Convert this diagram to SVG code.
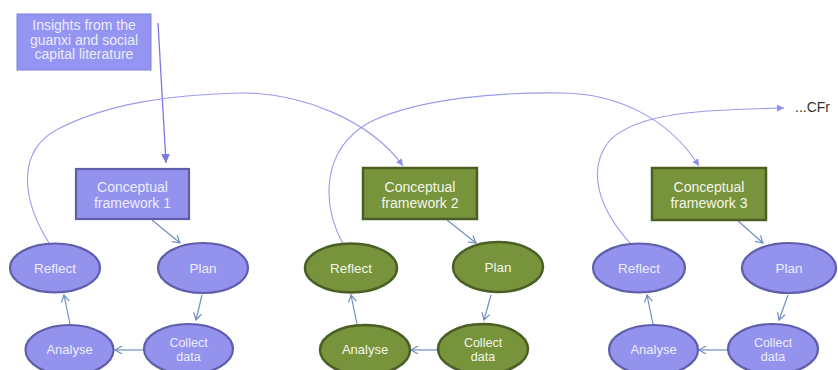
<svg xmlns="http://www.w3.org/2000/svg" width="838" height="370" viewBox="0 0 838 370">
  <defs>
    <style>
      .lav { fill: #9393ee; stroke: #5e5eaa; stroke-width: 2.2; }
      .grn { fill: #77933c; stroke: #4b5f25; stroke-width: 2.5; }
      .src { fill: #9494f2; stroke: #8080dd; stroke-width: 1; }
      text { font-family: "Liberation Sans", Arial, sans-serif; text-anchor: middle; }
      .tl { fill: #ececff; font-size: 14px; }
      .tg { fill: #f4f6ea; font-size: 14px; }
      .te { font-size: 13.5px; }
      .tc { font-size: 12.5px; }
      .cyc { fill: none; stroke: #6f8fc2; stroke-width: 1.2; marker-end: url(#open); }
      .loop { fill: none; stroke: #9a9aee; stroke-width: 1.1; marker-end: url(#tri); }
      .feed { fill: none; stroke: #7a7ae0; stroke-width: 1.3; marker-end: url(#tri2); }
    </style>
    <marker id="open" markerUnits="userSpaceOnUse" markerWidth="10" markerHeight="10" refX="8" refY="5" orient="auto">
      <path d="M1,1 L8,5 L1,9" fill="none" stroke="#6f8fc2" stroke-width="1.2"/>
    </marker>
    <marker id="tri" markerUnits="userSpaceOnUse" markerWidth="8" markerHeight="8" refX="7" refY="3.5" orient="auto">
      <path d="M0,0 L7,3.5 L0,7 z" fill="#8f8fec"/>
    </marker>
    <marker id="tri2" markerUnits="userSpaceOnUse" markerWidth="10" markerHeight="10" refX="9" refY="4.5" orient="auto">
      <path d="M0,0 L9,4.5 L0,9 z" fill="#7a7ae0"/>
    </marker>
  </defs>

  <rect width="838" height="370" fill="#ffffff"/>

  <!-- connectors -->
  <g id="connectors">
    <!-- literature feeds into the first framework -->
    <path class="feed" d="M158,23 L166,163"/>
    <!-- reflection loops on to the next framework -->
    <path class="loop" d="M49,243 C22,200 15,150 60,128 C110,103 170,95 240,93 C300,92 370,120 403,166"/>
    <path class="loop" d="M343,244 C322,205 320,150 370,122 C420,98 500,92 563,93 C620,94 670,120 699,166"/>
    <path class="loop" d="M630,243 C600,210 585,170 610,140 C640,112 700,110 784,108"/>
    <!-- cycle 1 -->
    <path class="cyc" d="M152,220 L180,243"/>
    <path class="cyc" d="M202,295 L196,320"/>
    <path class="cyc" d="M144,350 L115,350"/>
    <path class="cyc" d="M70,324 L64,295"/>
    <!-- cycle 2 -->
    <path class="cyc" d="M447,220 L476,243"/>
    <path class="cyc" d="M491,295 L484,320"/>
    <path class="cyc" d="M438,350 L411,350"/>
    <path class="cyc" d="M357,324 L351,295"/>
    <!-- cycle 3 -->
    <path class="cyc" d="M737,220 L763,243"/>
    <path class="cyc" d="M788,295 L779,320"/>
    <path class="cyc" d="M728,350 L699,350"/>
    <path class="cyc" d="M653,324 L647,295"/>
  </g>

  <!-- source box -->
  <g id="insights">
    <rect class="src" x="17" y="14" width="134" height="56"/>
    <text class="tl" x="84" y="30">Insights from the</text>
    <text class="tl" x="84" y="44.5">guanxi and social</text>
    <text class="tl" x="84" y="59">capital literature</text>
  </g>

  <!-- frameworks -->
  <g id="cf1">
    <rect class="lav" x="76" y="169" width="113" height="50"/>
    <text class="tl" x="132.5" y="192">Conceptual</text>
    <text class="tl" x="132.5" y="208">framework 1</text>
  </g>
  <g id="cf2">
    <rect class="grn" x="363" y="168" width="114" height="51"/>
    <text class="tg" x="420" y="192">Conceptual</text>
    <text class="tg" x="420" y="208">framework 2</text>
  </g>
  <g id="cf3">
    <rect class="grn" x="652" y="168" width="114" height="52"/>
    <text class="tg" x="709" y="192">Conceptual</text>
    <text class="tg" x="709" y="208">framework 3</text>
  </g>

  <!-- cycle 1 nodes -->
  <g id="reflect1">
    <ellipse class="lav" cx="55" cy="268" rx="45" ry="24.5"/>
    <text class="tl te" x="55" y="273">Reflect</text>
  </g>
  <g id="plan1">
    <ellipse class="lav" cx="203" cy="268" rx="45" ry="25"/>
    <text class="tl te" x="203" y="273">Plan</text>
  </g>
  <g id="collect1">
    <ellipse class="lav" cx="188.5" cy="349" rx="44.5" ry="25"/>
    <text class="tl tc" x="188.5" y="347">Collect</text>
    <text class="tl tc" x="188.5" y="361">data</text>
  </g>
  <g id="analyse1">
    <ellipse class="lav" cx="69.5" cy="350" rx="44" ry="25"/>
    <text class="tl" x="69.5" y="354" style="font-size:13px">Analyse</text>
  </g>

  <!-- cycle 2 nodes -->
  <g id="reflect2">
    <ellipse class="grn" cx="351" cy="268" rx="46" ry="24.5"/>
    <text class="tg te" x="351" y="273">Reflect</text>
  </g>
  <g id="plan2">
    <ellipse class="grn" cx="498" cy="267" rx="45" ry="25"/>
    <text class="tg te" x="498" y="272">Plan</text>
  </g>
  <g id="collect2">
    <ellipse class="grn" cx="483" cy="349" rx="45" ry="25"/>
    <text class="tg tc" x="483" y="347">Collect</text>
    <text class="tg tc" x="483" y="361">data</text>
  </g>
  <g id="analyse2">
    <ellipse class="grn" cx="365" cy="350" rx="45" ry="25"/>
    <text class="tg" x="365" y="354" style="font-size:13px">Analyse</text>
  </g>

  <!-- cycle 3 nodes -->
  <g id="reflect3">
    <ellipse class="lav" cx="639" cy="268" rx="46" ry="24.5"/>
    <text class="tl te" x="639" y="273">Reflect</text>
  </g>
  <g id="plan3">
    <ellipse class="lav" cx="789" cy="268" rx="47" ry="25"/>
    <text class="tl te" x="789" y="273">Plan</text>
  </g>
  <g id="collect3">
    <ellipse class="lav" cx="773" cy="349" rx="45" ry="25"/>
    <text class="tl tc" x="773" y="347">Collect</text>
    <text class="tl tc" x="773" y="361">data</text>
  </g>
  <g id="analyse3">
    <ellipse class="lav" cx="653.5" cy="350" rx="44.5" ry="25"/>
    <text class="tl" x="653.5" y="354" style="font-size:13px">Analyse</text>
  </g>

  <!-- continuation label -->
  <g id="next">
    <text x="795" y="112" style="font-size:14px; fill:#333333; text-anchor:start">...CFr</text>
  </g>
</svg>
